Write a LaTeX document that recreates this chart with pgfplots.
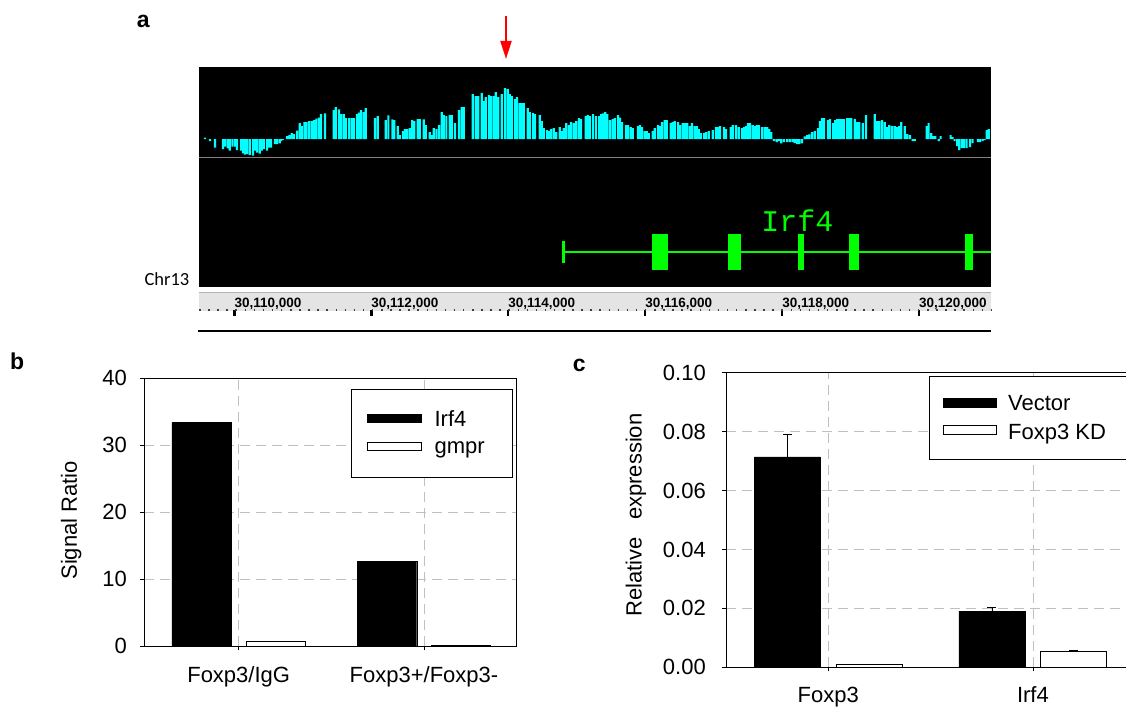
\documentclass[border=0pt]{standalone}
\usepackage{fontspec}
\setmainfont{Liberation Sans}
\newfontfamily\genefont{Liberation Mono}
\newfontfamily\chrfont{Carlito}
\usepackage{pgfplots}
\usepackage{pgfplotstable}
\pgfplotsset{compat=1.18}
\usetikzlibrary{arrows.meta}
\definecolor{trackcyan}{RGB}{0,255,255}
\definecolor{genegreen}{RGB}{0,255,0}
\definecolor{gridgray}{RGB}{192,192,192}
\definecolor{rulerband}{RGB}{228,228,228}
\newcommand\lab{\fontsize{22}{26}\selectfont}

\pgfplotsset{
  limgBa/.style={legend image code/.code={\path[draw=none, fill=none] (0pt,-14.85pt) rectangle (54.6pt,14.85pt);
    \draw[##1, line width=0.8pt] (0pt,-4pt) rectangle (54.6pt,4pt);}},
  limgBb/.style={legend image code/.code={\path[draw=none, fill=none] (0pt,-14.85pt) rectangle (54.6pt,14.85pt);
    \draw[##1, line width=0.8pt] (0pt,-1.7pt) rectangle (54.6pt,6.3pt);}},
  limgCa/.style={legend image code/.code={\path[draw=none, fill=none] (0pt,-14.5pt) rectangle (53pt,14.5pt);
    \draw[##1, line width=0.8pt] (0pt,-4.5pt) rectangle (53pt,4.5pt);}},
  limgCb/.style={legend image code/.code={\path[draw=none, fill=none] (0pt,-14.5pt) rectangle (53pt,14.5pt);
    \draw[##1, line width=0.8pt] (0pt,-2.3pt) rectangle (53pt,6.7pt);}},
}

% ChIP-chip signal track, left half (zx = screen position, v = signal)
\pgfplotstableread{
zx v
30 4
45 -6
60 -26
84 -30
90 -23
98 -28
104 -35
112 -23
120 -23
126 -33
138 -35
144 -43
150 -47
156 -45
164 -48
174 -50
180 -35
186 -41
194 -44
200 -35
206 -30
216 -35
222 -26
228 -26
240 -15
246 -15
254 -13
258 -6
264 -3
276 9
283 12
290 18
296 15
306 25
314 48
320 39
328 51
334 51
342 54
350 54
357 57
364 61
372 64
378 75
390 77
416 87
422 96
432 89
438 75
446 75
452 63
462 63
470 63
476 63
486 75
492 79
498 87
506 81
512 93
540 63
548 69
572 57
580 71
592 59
598 57
608 39
614 12
624 24
630 30
636 30
644 33
652 57
658 54
668 60
674 60
686 59
692 42
704 21
710 12
716 33
724 30
732 42
740 81
746 72
754 69
764 72
770 72
780 48
792 87
800 96
806 96
833 135
842 129
850 129
860 138
866 114
872 126
882 132
888 129
896 129
902 141
910 126
920 135
930 153
938 150
944 135
950 129
960 120
966 126
974 108
980 108
986 108
998 93
1004 81
1014 78
1020 75
1034 72
1040 54
1046 33
1056 27
1062 24
1068 30
1076 33
1084 21
1094 36
1100 24
1106 33
1114 48
1122 42
1128 51
1136 48
1144 54
1152 63
1158 60
1172 69
1178 72
1184 69
1194 75
}\trackA

% signal track, right half
\pgfplotstableread{
zx v
18 69
28 69
34 75
40 77
46 81
52 75
60 57
68 60
74 63
84 72
90 64
96 51
108 42
114 42
122 36
128 33
144 39
150 42
156 36
164 24
170 24
176 18
188 24
194 33
204 42
210 39
216 51
224 57
230 57
242 48
248 51
254 54
264 51
270 42
278 48
285 48
292 48
300 39
306 48
314 39
320 39
326 30
332 18
342 18
348 21
356 24
368 27
378 36
384 36
390 39
402 36
408 30
422 36
428 42
438 42
446 36
456 33
462 36
468 39
474 48
480 48
488 42
494 39
500 42
506 42
516 36
524 36
532 36
538 30
544 21
552 -6
560 -9
568 -6
574 -13
582 -9
592 -9
600 -9
608 -9
614 -12
622 -15
628 -15
636 -13
644 8
652 12
658 14
666 21
674 24
684 33
690 54
696 63
702 63
714 57
720 60
730 48
736 57
742 60
748 60
755 60
762 60
772 63
778 63
784 63
794 60
800 51
808 51
818 48
828 72
854 75
860 54
868 54
876 57
884 51
890 36
898 42
906 39
914 39
920 36
928 39
934 51
944 39
952 15
960 12
968 -6
974 -6
1010 39
1016 48
1024 18
1030 9
1036 9
1046 -6
1052 9
1082 12
1088 6
1094 -6
1102 -21
1108 -33
1116 -27
1122 -27
1130 -27
1140 -24
1148 -12
1164 -9
1170 -9
1178 -6
1184 -3
1190 27
1196 30
}\trackB

\begin{document}
\begin{tikzpicture}[x=1pt,y=1pt]
\path[use as bounding box] (0,0) rectangle (1126,708);
\clip (0,0) rectangle (1126,708);

%% ---------------- panel a ----------------
\node[anchor=base west, inner sep=0pt, font=\bfseries\fontsize{23}{23}\selectfont] at (136.7,680) {a};
\draw[red, line width=2pt, -{Triangle[width=11pt,length=18pt]}] (506,692) -- (506,649);
\fill[black] (199,420.7) rectangle (991,641.3);

\begin{axis}[at={(199pt,550.3pt)}, anchor=south west, scale only axis,
  width=792pt, height=91pt, xmin=109.484, xmax=121.052, ymin=-56, ymax=217, hide axis]
\addplot[ybar, bar width=2.2pt, bar shift=0pt, fill=trackcyan, draw=none]
  table[x expr={110+(195+\thisrow{zx}/3-234.3)/68.47}, y=v]{\trackA};
\addplot[ybar, bar width=2.2pt, bar shift=0pt, fill=trackcyan, draw=none]
  table[x expr={110+(590+\thisrow{zx}/3-234.3)/68.47}, y=v]{\trackB};
\end{axis}
\draw[gray, line width=1.3pt] (199,550.3) -- (991,550.3);

\begin{axis}[at={(199pt,420.7pt)}, anchor=south west, scale only axis,
  width=792pt, height=129.6pt, xmin=109.484, xmax=121.052, ymin=0, ymax=129.6, hide axis]
\addplot[genegreen, line width=2pt] coordinates {(114.805,35.6) (121.052,35.6)};
\addplot[genegreen, line width=2.5pt] coordinates {(114.805,24.6) (114.805,46.3)};
\addplot[draw=none, fill=genegreen] coordinates {(116.100,17.3) (116.334,17.3) (116.334,53.3) (116.100,53.3)} -- cycle;
\addplot[draw=none, fill=genegreen] coordinates {(117.210,17.3) (117.400,17.3) (117.400,53.3) (117.210,53.3)} -- cycle;
\addplot[draw=none, fill=genegreen] coordinates {(118.233,17.3) (118.320,17.3) (118.320,53.3) (118.233,53.3)} -- cycle;
\addplot[draw=none, fill=genegreen] coordinates {(118.978,17.3) (119.124,17.3) (119.124,53.3) (118.978,53.3)} -- cycle;
\addplot[draw=none, fill=genegreen] coordinates {(120.672,17.3) (120.789,17.3) (120.789,53.3) (120.672,53.3)} -- cycle;
\node[text=genegreen, inner sep=0pt, font=\genefont\fontsize{30}{30}\selectfont] at (axis cs:118.224,66.3) {Irf4};
\end{axis}

\node[anchor=base east, inner sep=0pt, font=\chrfont\fontsize{18.5}{20}\selectfont] at (189.5,422) {Chr13};

\fill[rulerband] (199,397.3) rectangle (991,415.7);
\draw[gray!60, line width=1pt] (199,415.7) -- (991,415.7);
\begin{axis}[at={(199pt,398pt)}, anchor=south west, scale only axis,
  width=792pt, height=17.7pt, xmin=109.484, xmax=121.052, ymin=0, ymax=1,
  hide y axis, axis x line*=bottom,
  x axis line style={-, draw=gray!50!black, line width=1.3pt, dash pattern=on 1.5pt off 7.6pt},
  xtick={110,112,114,116,118,120},
  xticklabels={30{,}110{,}000,30{,}112{,}000,30{,}114{,}000,30{,}116{,}000,30{,}118{,}000,30{,}120{,}000},
  tick align=outside, major tick length=6pt,
  xtick style={black, line width=2.6pt, solid},
  xticklabel style={font=\bfseries\fontsize{13.5}{14}\selectfont, anchor=base west, inner sep=0pt, yshift=8pt}]
\end{axis}
\draw[line width=2.6pt] (198,376.8) -- (991,376.8);

%% ---------------- panel b ----------------
\node[anchor=base west, inner sep=0pt, font=\bfseries\fontsize{23}{23}\selectfont] at (10,338) {b};
\begin{axis}[at={(144pt,61.7pt)}, anchor=south west, scale only axis,
  width=372.8pt, height=268pt, ybar,
  xmin=-0.511, xmax=1.501, ymin=0, ymax=40,
  ytick={0,10,20,30,40}, xtick={0,1}, xticklabels={Foxp3/IgG, Foxp3+/Foxp3-},
  tick align=outside, major tick length=4pt, xtick pos=left, ytick pos=left,
  grid=major, grid style={gridgray, line width=0.8pt, dash pattern=on 10pt off 6pt},
  axis line style={black, line width=0.8pt}, tick style={black, line width=0.8pt},
  /pgf/number format/assume math mode=true,
  tick label style={font=\lab},
  yticklabel style={anchor=east, inner sep=0pt, xshift=-13pt},
  xticklabel style={anchor=base, inner sep=0pt, yshift=-32pt},
  every axis y label/.style={at={(rel axis cs:-0.195,0.47)}, rotate=90, anchor=center},
  ylabel={Signal Ratio}, ylabel style={font=\lab},
  legend style={at={(0.9885,0.959)}, anchor=north east, draw=black, line width=0.8pt, fill=white,
    inner xsep=15pt, inner ysep=14.3pt, row sep=0pt, nodes={inner sep=0pt}, font=\lab,
    /tikz/every odd column/.append style={column sep=12.5pt}},
  legend cell align=left]
\addplot[fill=black, draw=black, bar width=0.322, bar shift=-0.2, limgBa]
  coordinates {(0,33.4) (1,12.65)};
\addlegendentry{\makebox[62.5pt][l]{Irf4}}
\addplot[fill=white, draw=black, line width=0.8pt, bar width=0.322, bar shift=0.2, limgBb]
  coordinates {(0,0.7) (1,0.15)};
\addlegendentry{\makebox[62.5pt][l]{gmpr}}
\end{axis}

%% ---------------- panel c ----------------
\node[anchor=base west, inner sep=0pt, font=\bfseries\fontsize{23}{23}\selectfont] at (572.6,336.3) {c};
\begin{axis}[at={(726pt,40.7pt)}, anchor=south west, scale only axis,
  width=409.2pt, height=294.6pt, ybar,
  xmin=-0.5, xmax=1.5, ymin=0, ymax=0.1,
  ytick={0,0.02,0.04,0.06,0.08,0.1}, scaled y ticks=false,
  xtick={0,1}, xticklabels={Foxp3, Irf4},
  tick align=outside, major tick length=4pt, xtick pos=left, ytick pos=left,
  grid=major, grid style={gridgray, line width=0.8pt, dash pattern=on 10pt off 6pt},
  axis line style={black, line width=0.8pt}, tick style={black, line width=0.8pt},
  /pgf/number format/assume math mode=true,
  tick label style={font=\lab},
  yticklabel style={anchor=east, inner sep=0pt, xshift=-16pt,
    /pgf/number format/.cd, fixed, fixed zerofill, precision=2},
  xticklabel style={anchor=base, inner sep=0pt, yshift=-31pt},
  every axis y label/.style={at={(rel axis cs:-0.22,0.517)}, rotate=90, anchor=center},
  ylabel={Relative\hspace*{11pt} expression}, ylabel style={font=\lab},
  legend style={at={(0.496,0.989)}, anchor=north west, draw=black, line width=0.8pt, fill=white,
    inner xsep=14pt, inner ysep=12.5pt, row sep=0pt, nodes={inner sep=0pt}, font=\lab,
    /tikz/every odd column/.append style={column sep=11pt}},
  legend cell align=left,
  error bars/error bar style={black, line width=0.8pt},
  error bars/error mark options={black, line width=0.8pt, mark size=4.5pt, rotate=90}]
\addplot[fill=black, draw=black, bar width=0.323, bar shift=-0.2, limgCa,
  error bars/.cd, y dir=plus, y explicit]
  coordinates {(0,0.0714) +- (0,0.0076) (1,0.0191) +- (0,0.0013)};
\addlegendentry{\makebox[200pt][l]{Vector}}
\addplot[fill=white, draw=black, line width=0.8pt, bar width=0.323, bar shift=0.2, limgCb,
  error bars/.cd, y dir=plus, y explicit]
  coordinates {(0,0.0009) +- (0,0.0001) (1,0.0053) +- (0,0.0005)};
\addlegendentry{\makebox[200pt][l]{Foxp3 KD}}
\end{axis}
\end{tikzpicture}
\end{document}
